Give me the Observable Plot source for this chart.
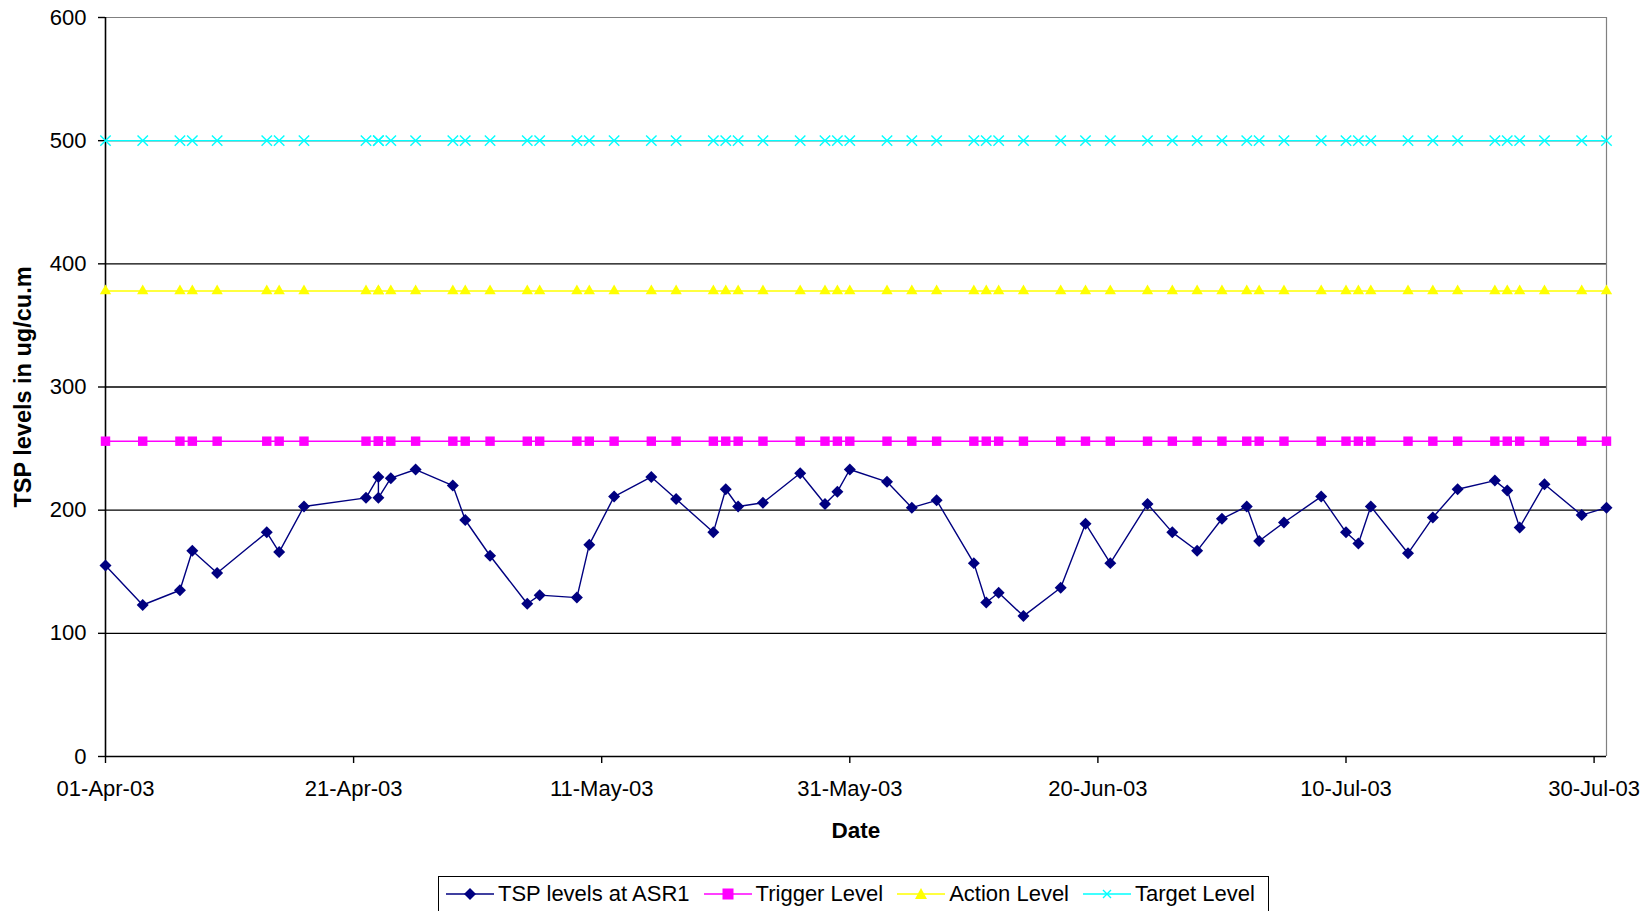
<!DOCTYPE html>
<html><head><meta charset="utf-8">
<script src="https://cdn.jsdelivr.net/npm/d3@7"></script>
<script src="https://cdn.jsdelivr.net/npm/@observablehq/plot@0.6"></script>
<style>
body{margin:0;background:#fff;font-family:"Liberation Sans",Arial,sans-serif;}
#chart svg{display:block}
#legend{position:absolute;left:438px;top:876px;width:831px;height:36px;border:1px solid #000;display:flex;align-items:center;box-sizing:border-box;padding-left:7px;font-size:22px;color:#000;background:#fff}
.item{display:flex;align-items:center;margin-right:14px;white-space:nowrap}
.item svg{margin-right:4px;display:block}
</style></head><body>
<div id="chart"></div>
<div id="legend"></div>
<script>
// ---- data ----
const sampleDates = [
  "2003-04-01","2003-04-04","2003-04-07","2003-04-08","2003-04-10","2003-04-14","2003-04-15","2003-04-17",
  "2003-04-22","2003-04-23","2003-04-23","2003-04-24","2003-04-26","2003-04-29","2003-04-30","2003-05-02",
  "2003-05-05","2003-05-06","2003-05-09","2003-05-10","2003-05-12","2003-05-15","2003-05-17","2003-05-20",
  "2003-05-21","2003-05-22","2003-05-24","2003-05-27","2003-05-29","2003-05-30","2003-05-31","2003-06-03",
  "2003-06-05","2003-06-07","2003-06-10","2003-06-11","2003-06-12","2003-06-14","2003-06-17","2003-06-19",
  "2003-06-21","2003-06-24","2003-06-26","2003-06-28","2003-06-30","2003-07-02","2003-07-03","2003-07-05",
  "2003-07-08","2003-07-10","2003-07-11","2003-07-12","2003-07-15","2003-07-17","2003-07-19","2003-07-22",
  "2003-07-23","2003-07-24","2003-07-26","2003-07-29","2003-07-31"
];
const tspValues = [
  155,123,135,167,149,182,166,203,
  210,227,210,226,233,220,192,163,
  124,131,129,172,211,227,209,182,
  217,203,206,230,205,215,233,223,
  202,208,157,125,133,114,137,189,
  157,205,182,167,193,203,175,190,
  211,182,173,203,165,194,217,224,
  216,186,221,196,202
];
const triggerLevel = 256;
const actionLevel = 378;
const targetLevel = 500;

const seriesNames = ["TSP levels at ASR1", "Trigger Level", "Action Level", "Target Level"];
const seriesColors = ["#000080", "#ff00ff", "#ffff00", "#00ffff"];
const seriesSymbols = ["diamond2", "square2", "triangle2", "times"];

const xDomain = ["2003-04-01", "2003-07-31"];
const xTickDates = ["2003-04-01","2003-04-21","2003-05-11","2003-05-31","2003-06-20","2003-07-10","2003-07-30"];
const yTicks = [0, 100, 200, 300, 400, 500, 600];
const yGrid = [100, 200, 300, 400, 500];

// ---- build ----
const parse = d3.utcParse("%Y-%m-%d");
const data = sampleDates.map((d, i) => ({date: parse(d), tsp: tspValues[i]}));
const dom = xDomain.map(parse);
const font = '"Liberation Sans", Arial, sans-serif';

const levelSeries = [
  {v: targetLevel, c: seriesColors[3], s: seriesSymbols[3], r: 4.8},
  {v: actionLevel, c: seriesColors[2], s: seriesSymbols[2], r: 5.4},
  {v: triggerLevel, c: seriesColors[1], s: seriesSymbols[1], r: 6.0}
];

const marks = [
  Plot.ruleY(yGrid, {stroke: "#000", strokeWidth: 1.4}),
  Plot.ruleY([600], {stroke: "#808080", strokeWidth: 1.2}),
  Plot.ruleX([dom[1]], {stroke: "#808080", strokeWidth: 1.2}),
  Plot.axisY({ticks: yTicks, tickSize: 7, tickPadding: 12, fontSize: 22, label: null, strokeWidth: 1.4}),
  Plot.axisX({ticks: xTickDates.map(parse), tickFormat: d3.utcFormat("%d-%b-%y"), tickSize: 7, tickPadding: 17, fontSize: 22, label: null, strokeWidth: 1.4}),
  Plot.ruleX([dom[0]], {stroke: "#000", strokeWidth: 1.6}),
  Plot.ruleY([0], {stroke: "#000", strokeWidth: 1.6}),
];
for (const L of levelSeries) {
  marks.push(Plot.line(data, {x: "date", y: () => L.v, stroke: L.c, strokeWidth: 1.4}));
  if (L.s === "times") {
    marks.push(Plot.dot(data, {x: "date", y: () => L.v, symbol: L.s, r: L.r, stroke: L.c, strokeWidth: 1.4, fill: "none"}));
  } else {
    marks.push(Plot.dot(data, {x: "date", y: () => L.v, symbol: L.s, r: L.r, fill: L.c, stroke: "none"}));
  }
}
marks.push(Plot.line(data, {x: "date", y: "tsp", stroke: seriesColors[0], strokeWidth: 1.4}));
marks.push(Plot.dot(data, {x: "date", y: "tsp", symbol: seriesSymbols[0], r: 5.4, fill: seriesColors[0], stroke: "none"}));
marks.push(Plot.text(["Date"], {frameAnchor: "bottom", dy: 74, fontSize: 22.5, fontWeight: "bold", fill: "#000", lineAnchor: "middle"}));
marks.push(Plot.text(["TSP levels in ug/cu.m"], {frameAnchor: "left", dx: -82, rotate: -90, fontSize: 23.5, fontWeight: "bold", fill: "#000", textAnchor: "middle", lineAnchor: "middle"}));

const chart = Plot.plot({
  width: 1647,
  height: 872,
  marginLeft: 105,
  marginRight: 41,
  marginTop: 17,
  marginBottom: 116,
  style: {fontFamily: font, fontSize: "22px", color: "#000", background: "#fff", overflow: "visible"},
  x: {type: "utc", domain: dom},
  y: {domain: [0, 600]},
  marks
});
document.getElementById("chart").appendChild(chart);

// ---- legend ----
function markerSvg(sym, color) {
  let m = "";
  if (sym === "diamond2") m = `<polygon points="24,4 30,10 24,16 18,10" fill="${color}"/>`;
  else if (sym === "square2") m = `<rect x="18.5" y="4.5" width="11" height="11" fill="${color}"/>`;
  else if (sym === "triangle2") m = `<polygon points="24,4 30,15 18,15" fill="${color}"/>`;
  else m = `<path d="M20,6L28,14M28,6L20,14" stroke="${color}" stroke-width="1.4"/>`;
  return `<svg width="48" height="20" viewBox="0 0 48 20"><line x1="0" y1="10" x2="48" y2="10" stroke="${color}" stroke-width="1.6"/>${m}</svg>`;
}
document.getElementById("legend").innerHTML = seriesNames.map((n, i) =>
  `<div class="item">${markerSvg(seriesSymbols[i], seriesColors[i])}<span>${n}</span></div>`).join("");
</script>
</body></html>
